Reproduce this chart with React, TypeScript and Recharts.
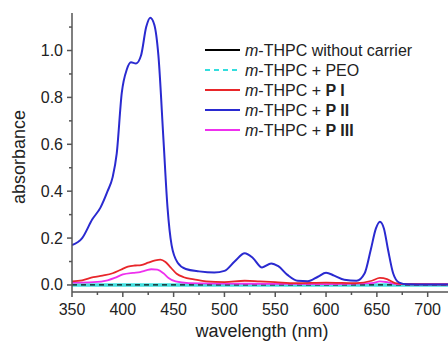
import React from 'react';
import { LineChart, Line, XAxis, YAxis } from 'recharts';

// ---- data ----
const BASE_WL = [350, 400, 450, 500, 550, 600, 650, 700, 720];
const NO_CARRIER_ABS = [0, 0, 0, 0, 0, 0, 0, 0, 0];
const PEO_ABS = [0, 0, 0, 0, 0, 0, 0, 0, 0];

const P1_WL = [350, 360, 371, 380, 390, 398, 405, 412, 418, 425, 432, 437, 442, 447, 453, 460, 470, 482, 500, 520, 535, 550, 570, 600, 630, 645, 653, 660, 668, 680, 720];
const P1_ABS = [0.015, 0.02, 0.033, 0.04, 0.05, 0.065, 0.078, 0.083, 0.085, 0.095, 0.105, 0.108, 0.098, 0.075, 0.048, 0.033, 0.024, 0.015, 0.012, 0.018, 0.015, 0.012, 0.008, 0.01, 0.008, 0.018, 0.03, 0.025, 0.008, 0.003, 0.002];

const P2_WL = [350, 360, 370, 378, 385, 390, 394, 399, 404, 408, 413, 418, 423, 427, 431, 435, 440, 444, 448, 454, 462, 475, 490, 500, 510, 520, 528, 537, 546, 553, 562, 572, 582, 592, 600, 608, 618, 630, 638, 644, 649, 653, 657, 661, 666, 672, 680, 700, 720];
const P2_ABS = [0.17, 0.2, 0.28, 0.33, 0.4, 0.46, 0.56, 0.82, 0.92, 0.95, 0.945, 0.98, 1.1, 1.14, 1.11, 0.98, 0.62, 0.33, 0.17, 0.095, 0.068, 0.058, 0.053, 0.06, 0.1, 0.135, 0.115, 0.075, 0.092, 0.08, 0.043, 0.018, 0.016, 0.035, 0.052, 0.04, 0.022, 0.018, 0.05, 0.15, 0.24, 0.27, 0.24, 0.15, 0.05, 0.01, 0.003, 0.002, 0.002];

const P3_WL = [350, 371, 385, 392, 400, 410, 417, 423, 428, 434, 440, 445, 452, 465, 500, 550, 600, 645, 653, 660, 670, 720];
const P3_ABS = [0.01, 0.012, 0.02, 0.03, 0.045, 0.052, 0.055, 0.062, 0.067, 0.065, 0.05, 0.03, 0.015, 0.008, 0.006, 0.005, 0.004, 0.008, 0.015, 0.012, 0.004, 0.004];

const X_TICKS = [350, 375, 400, 425, 450, 475, 500, 525, 550, 575, 600, 625, 650, 675, 700];
const Y_TICKS = [0, 0.1, 0.2, 0.3, 0.4, 0.5, 0.6, 0.7, 0.8, 0.9, 1.0, 1.1];

const pts = (wl: number[], ab: number[]) => wl.map((x, i) => ({ x, y: ab[i] }));

const FONT = '"Liberation Sans", Arial, Helvetica, sans-serif';
const AXIS = '#555';
const TXT = '#222';

const XTick = (props: any) => {
  const { x, y, payload } = props;
  const v = payload.value;
  const major = v % 50 === 0;
  return (
    <g>
      <line x1={x} x2={x} y1={y} y2={y + (major ? 5 : 3)} stroke={AXIS} strokeWidth={1.5} />
      {major && (
        <text x={x} y={y + 23} textAnchor="middle" fontSize={16} fontFamily={FONT} fill={TXT}>
          {v}
        </text>
      )}
    </g>
  );
};

const YTick = (props: any) => {
  const { x, y, payload } = props;
  const v = payload.value;
  const major = Math.round(v * 10) % 2 === 0;
  return (
    <g>
      <line x1={x} x2={x - (major ? 5 : 3)} y1={y} y2={y} stroke={AXIS} strokeWidth={1.5} />
      {major && (
        <text x={x - 9} y={y + 5.5} textAnchor="end" fontSize={16} fontFamily={FONT} fill={TXT}>
          {v.toFixed(1)}
        </text>
      )}
    </g>
  );
};

const LEGEND = [
  { color: '#000000', dash: '', name: ' without carrier', bold: '' },
  { color: '#33dddd', dash: '5 4', name: ' + PEO', bold: '' },
  { color: '#e8262a', dash: '', name: ' + ', bold: 'P I' },
  { color: '#2a2ad0', dash: '', name: ' + ', bold: 'P II' },
  { color: '#ee30ee', dash: '', name: ' + ', bold: 'P III' },
];

export default function App() {
  return (
    <div style={{ position: 'absolute', left: 0, top: 0, width: 448, height: 342, background: '#fff', overflow: 'hidden' }}>
      <LineChart width={448} height={342} margin={{ top: 13, right: 0, bottom: 0, left: 0 }}>
        <XAxis
          type="number"
          dataKey="x"
          domain={[350, 720]}
          ticks={X_TICKS}
          allowDataOverflow
          height={50}
          tickSize={0}
          tickMargin={0}
          tickLine={false}
          tick={<XTick />}
          interval={0}
          axisLine={{ stroke: AXIS, strokeWidth: 1.5 }}
        />
        <YAxis
          type="number"
          domain={[-0.03, 1.16]}
          ticks={Y_TICKS}
          allowDataOverflow
          width={72}
          tickSize={0}
          tickMargin={0}
          tickLine={false}
          tick={<YTick />}
          interval={0}
          axisLine={{ stroke: AXIS, strokeWidth: 1.5 }}
        />
        <Line data={pts(BASE_WL, PEO_ABS)} dataKey="y" type="linear" stroke="#44e0e0" strokeWidth={3.5} dot={false} isAnimationActive={false} />
        <Line data={pts(BASE_WL, NO_CARRIER_ABS)} dataKey="y" type="linear" stroke="#111" strokeWidth={1.3} strokeDasharray="5 4" dot={false} isAnimationActive={false} />
        <Line data={pts(P3_WL, P3_ABS)} dataKey="y" type="monotone" stroke="#ee30ee" strokeWidth={1.8} dot={false} isAnimationActive={false} />
        <Line data={pts(P1_WL, P1_ABS)} dataKey="y" type="monotone" stroke="#e8262a" strokeWidth={1.8} dot={false} isAnimationActive={false} />
        <Line data={pts(P2_WL, P2_ABS)} dataKey="y" type="monotone" stroke="#2a2ad0" strokeWidth={2} dot={false} isAnimationActive={false} />
      </LineChart>

      {/* axis titles */}
      <svg width={448} height={342} style={{ position: 'absolute', left: 0, top: 0, pointerEvents: 'none' }}>
        <text x={262} y={337} textAnchor="middle" fontSize={18} fontFamily={FONT} fill={TXT}>
          wavelength (nm)
        </text>
        <text transform="translate(25,157) rotate(-90)" textAnchor="middle" fontSize={18} fontFamily={FONT} fill={TXT}>
          absorbance
        </text>
        {LEGEND.map((l, i) => {
          const y = 50 + i * 20;
          return (
            <g key={i}>
              <line x1={205} x2={240} y1={y} y2={y} stroke={l.color} strokeWidth={1.8} strokeDasharray={l.dash || undefined} />
              <text x={245} y={y + 5.5} fontSize={16} fontFamily={FONT} fill={TXT}>
                <tspan fontStyle="italic">m</tspan>
                <tspan>{'-THPC' + l.name}</tspan>
                {l.bold && <tspan fontWeight="bold">{l.bold}</tspan>}
              </text>
            </g>
          );
        })}
      </svg>
    </div>
  );
}
